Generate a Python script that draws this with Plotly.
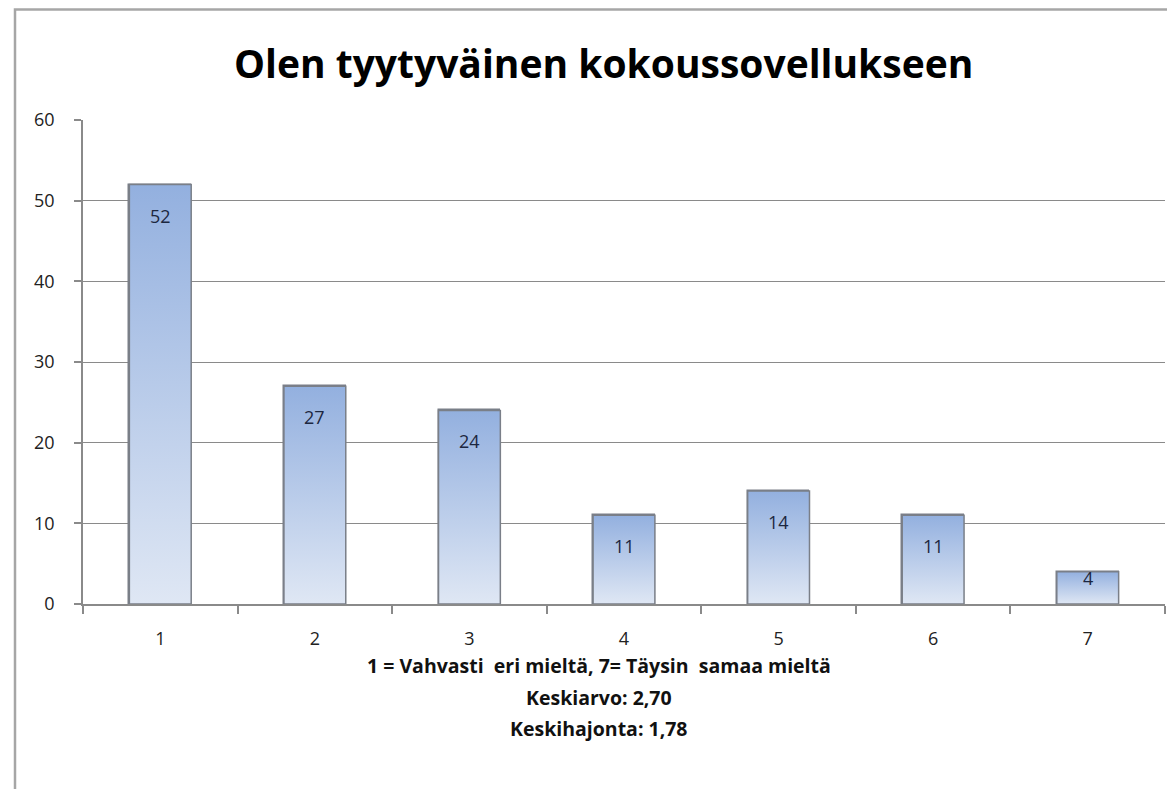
import plotly.graph_objects as go

categories = [1, 2, 3, 4, 5, 6, 7]
values = [52, 27, 24, 11, 14, 11, 4]
y_ticks = [0, 10, 20, 30, 40, 50, 60]
title_text = "Olen tyytyväinen kokoussovellukseen"
axis_note = "1 = Vahvasti  eri mieltä, 7= Täysin  samaa mieltä"
mean_text = "Keskiarvo: 2,70"
sd_text = "Keskihajonta: 1,78"

OFF = 8  # browser body margin
W, H = 1175 - OFF, 789 - OFF
# plot area in page pixels
PX0, PX1, PY0, PY1 = 83, 1165, 120, 604
ML, MR = PX0 - OFF, W - (PX1 - OFF)
MT, MB = PY0 - OFF, H - (PY1 - OFF)
plot_w = PX1 - PX0
plot_h = PY1 - PY0
ppu = plot_h / 60.0
bar_w = 0.4
font = "Open Sans"


def px_to_paper_x(px):
    return (px - PX0) / plot_w


def px_to_paper_y(py):
    return (PY1 - py) / plot_h


fig = go.Figure()

# gradient fills (one polygon per bar, built from the data)
for c, v in zip(categories, values):
    fig.add_trace(go.Scatter(
        x=[c - bar_w / 2, c + bar_w / 2, c + bar_w / 2, c - bar_w / 2, c - bar_w / 2],
        y=[0, 0, v, v, 0],
        mode="lines",
        fill="toself",
        fillgradient=dict(type="vertical",
                          colorscale=[[0, "#dfe7f4"], [1, "#93b0df"]]),
        line=dict(color="#7a7f88", width=1.5),
        hoverinfo="skip",
        showlegend=False,
    ))

# bar trace (outline) for the data
fig.add_trace(go.Bar(
    x=categories, y=values, width=bar_w,
    marker=dict(color="rgba(0,0,0,0)", line=dict(color="#7a7f88", width=1.5)),
    showlegend=False, hoverinfo="skip",
))

for c, v in zip(categories, values):
    hpx = v * ppu
    shift = -31 if hpx > 62 else -0.2 * hpx
    fig.add_annotation(x=c, y=v, text=str(v), showarrow=False, yshift=shift,
                       font=dict(family=font, size=18, color="#1c2740"),
                       xref="x", yref="y")

# bottom notes
for txt, ypix in [(axis_note, 665), (mean_text, 697), (sd_text, 728)]:
    fig.add_annotation(x=px_to_paper_x(599), y=px_to_paper_y(ypix),
                       xref="paper", yref="paper", text="<b>" + txt + "</b>",
                       showarrow=False, xanchor="center", yanchor="middle",
                       font=dict(family=font, size=19.5, color="#111111"))

# title
fig.add_annotation(x=px_to_paper_x(603), y=px_to_paper_y(62),
                   xref="paper", yref="paper", text="<b>" + title_text + "</b>",
                   showarrow=False, xanchor="center", yanchor="middle",
                   font=dict(family=font, size=39, color="#000000"))

# outer border
fig.add_shape(type="rect", xref="paper", yref="paper",
              x0=px_to_paper_x(15), x1=px_to_paper_x(1200),
              y0=px_to_paper_y(820), y1=px_to_paper_y(9.5),
              line=dict(color="#a6a6a6", width=2.5), fillcolor="rgba(0,0,0,0)",
              layer="below")

fig.update_layout(
    width=W, height=H,
    margin=dict(l=ML, r=MR, t=MT, b=MB, pad=0),
    paper_bgcolor="white", plot_bgcolor="white",
    showlegend=False,
    bargap=0,
)
fig.update_xaxes(
    range=[0.5, 7.5], tickvals=categories, ticktext=[str(c) for c in categories],
    ticks="", showgrid=False, zeroline=False,
    showline=True, linecolor="#8a8a8a", linewidth=1.5,
    tickfont=dict(family=font, size=18, color="#222222"),
    minor=dict(tickvals=[c - 0.5 for c in categories] + [categories[-1] + 0.5],
               ticks="outside", ticklen=8, tickcolor="#8a8a8a", tickwidth=1.5,
               showgrid=False),
    ticklabelstandoff=18,
)
fig.update_yaxes(
    range=[0, 60], tickvals=y_ticks, ticks="outside", ticklen=7,
    tickcolor="#8a8a8a", tickwidth=1.5,
    showgrid=True, gridcolor="#8a8a8a", gridwidth=1,
    zeroline=False, showline=True, linecolor="#8a8a8a", linewidth=1.5,
    tickfont=dict(family=font, size=18, color="#222222"),
    ticklabelstandoff=16,
)

fig.write_html("out.html")
